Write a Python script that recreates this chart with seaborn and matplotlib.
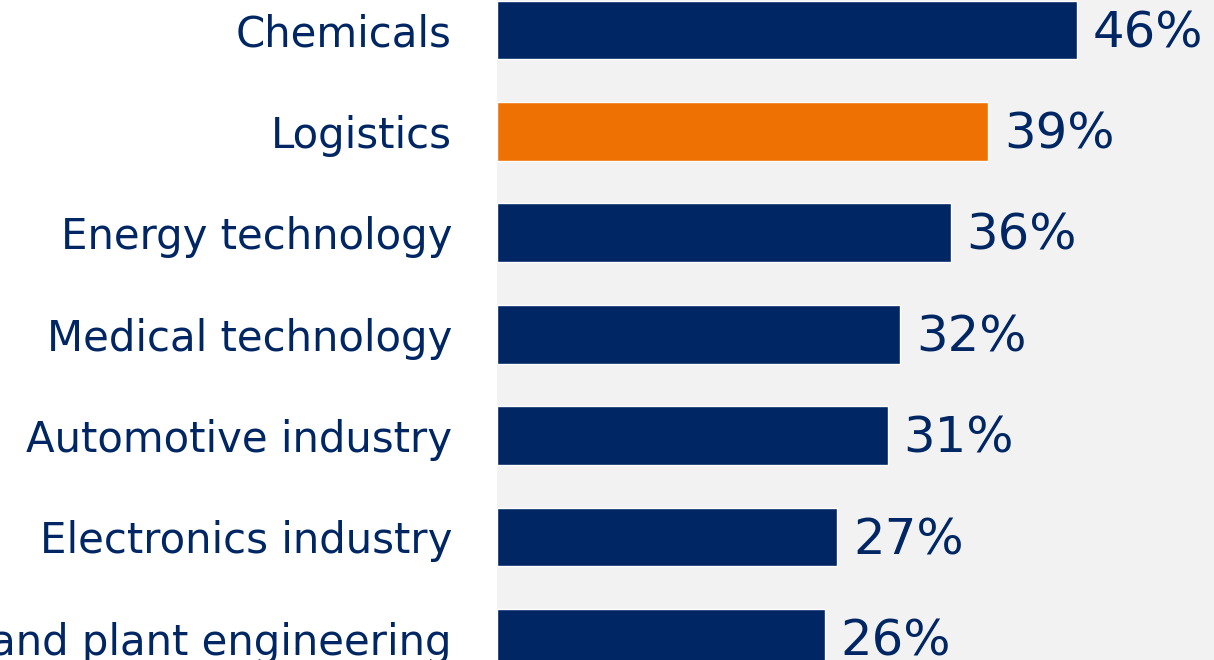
import matplotlib
matplotlib.use("Agg")
import matplotlib.pyplot as plt
import seaborn as sns
import pandas as pd

categories = ["Chemicals", "Logistics", "Energy technology", "Medical technology",
              "Automotive industry", "Electronics industry", "Machine and plant engineering"]
values = [46, 39, 36, 32, 31, 27, 26]
highlight = ["Logistics"]

NAVY = "#002663"
ORANGE = "#EE7203"
BG = "#F2F2F2"

sns.set_theme(style="white")
plt.rcParams['font.family'] = ['DejaVu Sans']

df = pd.DataFrame({"cat": categories, "val": values})
df["grp"] = ["hi" if c in highlight else "base" for c in categories]

fig = plt.figure(figsize=(12.14, 6.6), dpi=100)
W, H = 1214, 660
pitch = 101.4
top_center = 30
ax_h = 7 * pitch
ax_top = top_center - pitch / 2
ax = fig.add_axes([497 / W, 1 - (ax_top + ax_h) / H, (W - 497) / W, ax_h / H])

sns.barplot(data=df, y="cat", x="val", hue="grp", palette={"base": NAVY, "hi": ORANGE},
            orient="h", width=0.58, dodge=False, legend=False, ax=ax, saturation=1)
ax.set_facecolor(BG)
ax.set_xlim(0, (W - 497) / 12.6)
ax.set_ylim(6.5, -0.5)
ax.set_xlabel("")
ax.set_ylabel("")
ax.set_xticks([])
for s in ax.spines.values():
    s.set_visible(False)
ax.tick_params(axis="y", length=0, pad=32.4, labelsize=30.2, labelcolor=NAVY)

for i, v in enumerate(values):
    ax.text(v + 1.25, i + 0.03, f"{v}%", va="center", ha="left", fontsize=35.8, color=NAVY)

fig.savefig("out.png", dpi=100)
